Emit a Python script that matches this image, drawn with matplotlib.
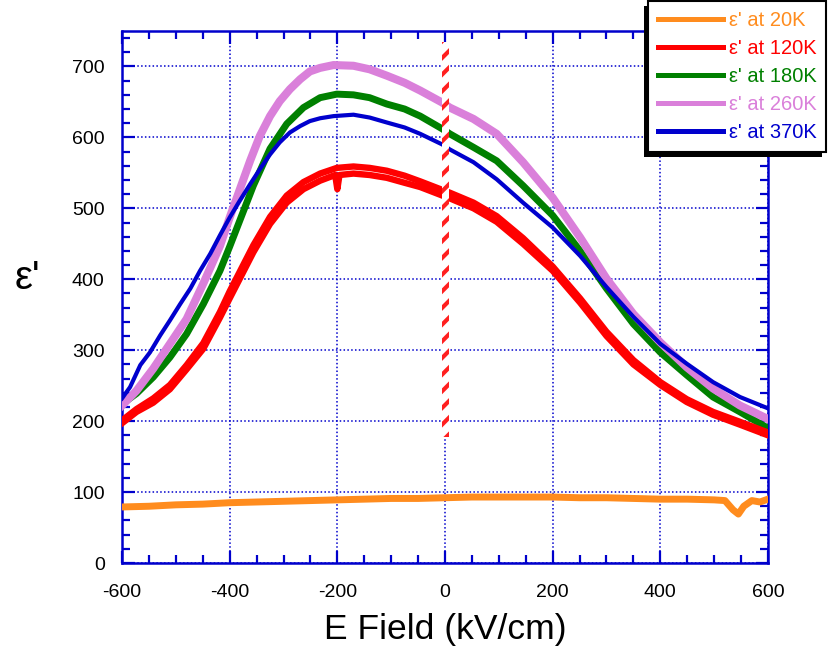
import matplotlib
matplotlib.use('Agg')
import matplotlib.pyplot as plt
from matplotlib.patches import Rectangle
from matplotlib.lines import Line2D
from matplotlib.ticker import MultipleLocator
from matplotlib.transforms import IdentityTransform

plt.rcParams['font.family'] = ['Liberation Sans', 'DejaVu Sans']
plt.rcParams['hatch.linewidth'] = 3.0
plt.rcParams['axes.unicode_minus'] = False

# ---------------- data ----------------
labels = ["\u03b5' at 20K", "\u03b5' at 120K", "\u03b5' at 180K", "\u03b5' at 260K", "\u03b5' at 370K"]
colors = ['#FF8C1E', '#FF0000', '#008000', '#DA80DA', '#0000CD']

orange_x = [-600, -550, -500, -450, -400, -350, -300, -250, -200, -150, -100, -50, 0, 50, 100, 150,
            200, 250, 300, 350, 400, 450, 500, 520, 535, 545, 555, 570, 585, 600]
orange_y = [79, 80, 82, 83, 85, 86, 87, 88, 89, 90, 91, 91, 92, 93, 93, 93,
            93, 92, 92, 91, 90, 90, 89, 88, 75, 69, 80, 88, 86, 90]

red_a_x = [-600, -573, -542, -511, -480, -449, -418, -400, -356, -325, -294, -263, -232, -201, -170, -140,
           -108, -75, -46, -5, 9, 53, 96, 145, 200, 251, 300, 350, 400, 449, 498, 548, 600]
red_a_y = [201, 217, 232, 251, 279, 310, 354, 383, 448, 488, 518, 537, 549, 557, 559, 557,
           553, 546, 538, 526, 522, 508, 489, 458, 418, 373, 326, 286, 255, 231, 213, 199, 184]
red_b_x = [-600, -573, -542, -511, -480, -449, -418, -400, -356, -325, -294, -263, -232, -204, -200, -196,
           -170, -140, -108, -75, -46, -5, 9, 53, 96, 145, 200, 251, 300, 350, 400, 449, 498, 548, 600]
red_b_y = [197, 213, 226, 245, 273, 302, 346, 373, 438, 478, 508, 527, 539, 547, 527, 547,
           549, 547, 543, 536, 530, 518, 514, 500, 481, 450, 412, 367, 320, 280, 251, 227, 209, 195, 180]

green_x = [-600, -573, -542, -511, -480, -449, -418, -400, -356, -325, -294, -263, -232, -201, -170, -140,
           -108, -75, -46, -5, 9, 53, 96, 145, 200, 251, 300, 350, 400, 449, 498, 548, 600]
green_y = [224, 239, 262, 290, 323, 365, 412, 446, 532, 584, 619, 642, 656, 661, 660, 656,
           647, 640, 630, 612, 605, 586, 567, 532, 490, 440, 387, 337, 297, 265, 234, 213, 190]

pink_x = [-600, -573, -542, -511, -480, -449, -418, -400, -381, -362, -344, -325, -307, -288, -269, -251,
          -232, -207, -170, -140, -108, -75, -46, -5, 9, 53, 96, 145, 200, 251, 300, 350, 400, 449, 498,
          548, 600]
pink_y = [222, 243, 274, 309, 344, 394, 447, 487, 527, 567, 602, 630, 651, 668, 682, 693,
          698, 702, 701, 696, 687, 677, 666, 649, 642, 626, 605, 565, 515, 459, 401, 351, 311, 276, 246,
          222, 203]

blue_x = [-600, -585, -566, -548, -529, -511, -492, -473, -455, -436, -418, -400, -381, -362, -344, -325,
          -307, -288, -269, -251, -232, -207, -170, -140, -108, -75, -46, -5, 9, 53, 96, 145, 200, 251,
          300, 350, 400, 449, 498, 548, 600]
blue_y = [232, 248, 279, 297, 321, 342, 365, 387, 412, 436, 462, 487, 511, 534, 555, 576,
          593, 607, 616, 623, 627, 630, 632, 628, 621, 614, 605, 590, 583, 565, 541, 508, 473, 433,
          389, 347, 309, 281, 255, 234, 218]

marker_x = [-6, 8]       # striped vertical marker near E = 0
marker_y = [178, 735]

x_ticks = [-600, -400, -200, 0, 200, 400, 600]
y_ticks = [0, 100, 200, 300, 400, 500, 600, 700]

# ---------------- figure ----------------
AX = '#0000CC'
fig = plt.figure(figsize=(8.29, 6.57), dpi=100)
fig.patch.set_facecolor('white')
ax = fig.add_axes([122 / 829, 1 - 563 / 657, (768 - 122) / 829, (563 - 31) / 657])

ax.plot(orange_x, orange_y, color=colors[0], lw=5, zorder=3)
ax.plot(green_x, green_y, color=colors[2], lw=5, zorder=3)
ax.plot(pink_x, pink_y, color=colors[3], lw=5.8, zorder=3)
ax.plot(blue_x, blue_y, color=colors[4], lw=3, zorder=3)
ax.plot(red_a_x, red_a_y, color=colors[1], lw=4.6, zorder=3)
ax.plot(red_b_x, red_b_y, color=colors[1], lw=4.6, zorder=3)

ax.add_patch(Rectangle((marker_x[0], marker_y[0]), marker_x[1] - marker_x[0], marker_y[1] - marker_y[0],
                       facecolor='white', edgecolor='#FF2020', linewidth=0, hatch='//', zorder=4))

ax.set_xlim(-600, 600)
ax.set_ylim(0, 750)
ax.set_xticks(x_ticks)
ax.set_yticks(y_ticks)
ax.xaxis.set_minor_locator(MultipleLocator(50))
ax.yaxis.set_minor_locator(MultipleLocator(20))
ax.grid(True, which='major', color=AX, linestyle=(0, (1, 1.5)), linewidth=1.1)
for s in ax.spines.values():
    s.set_color(AX)
    s.set_linewidth(1.8)
ax.tick_params(which='both', direction='in', top=True, right=True, color=AX, width=1.6,
               labelsize=14, labelcolor='black')
ax.tick_params(which='major', length=9)
ax.tick_params(which='minor', length=5.5)
ax.tick_params(axis='x', which='major', pad=15)
ax.tick_params(axis='y', which='major', pad=12.5)

ax.set_xlabel('E Field (kV/cm)', fontsize=25.5, labelpad=9)
ax.set_ylabel("\u03b5'", fontsize=29, rotation=0, ha='center', va='center')
ax.yaxis.set_label_coords(-0.147, 0.535)

handles = [Line2D([], [], color=c, lw=3.6) for c in colors]
leg = ax.legend(handles, labels, loc='upper left', bbox_to_anchor=(648 / 829, 1 - 1 / 657),
                bbox_transform=fig.transFigure, fontsize=14.5, handlelength=3.2, handletextpad=0.3,
                labelspacing=0.45, borderpad=0.5, borderaxespad=0, frameon=True, fancybox=False,
                edgecolor='black', framealpha=1, labelcolor='linecolor')
leg.get_frame().set_linewidth(1.5)
leg.set_zorder(6)

fig.canvas.draw()
bb = leg.get_window_extent()
ax.add_artist(Rectangle((bb.x0 - 4, bb.y0 - 5), bb.width, bb.height, transform=IdentityTransform(),
                        facecolor='black', edgecolor='none', zorder=5.9, clip_on=False))

fig.savefig('out.png', dpi=100)
